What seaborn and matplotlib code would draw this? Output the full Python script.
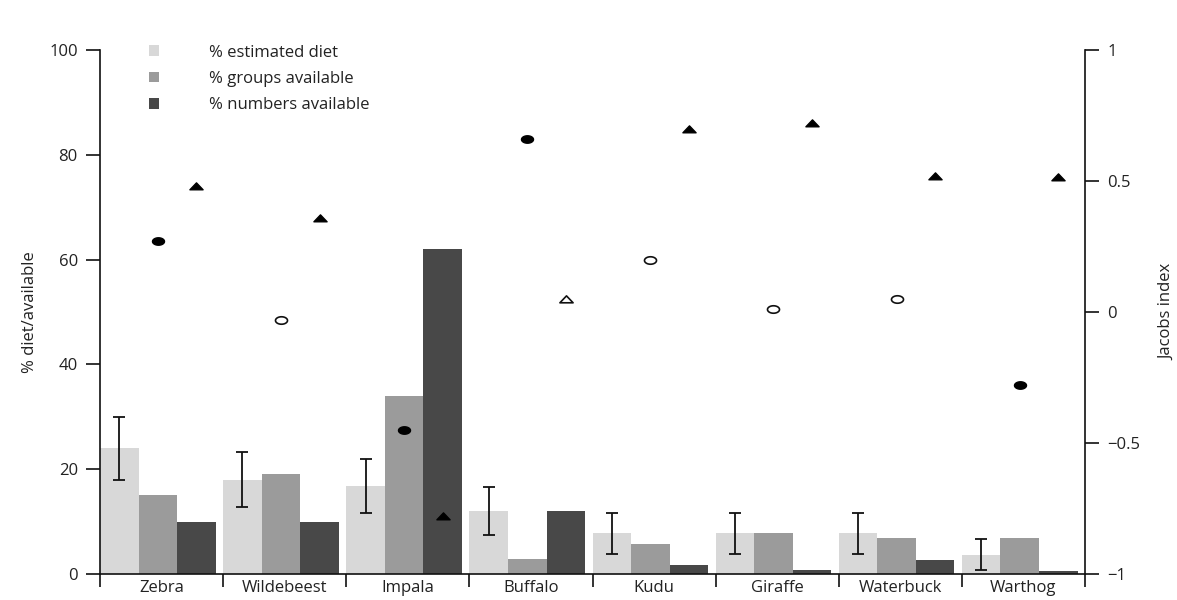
import numpy as np
import pandas as pd
import matplotlib
matplotlib.use("Agg")
import matplotlib.pyplot as plt
from matplotlib.patches import Patch
from matplotlib.path import Path
import seaborn as sns

# --- data -------------------------------------------------------------
species = ["Zebra", "Wildebeest", "Impala", "Buffalo", "Kudu", "Giraffe", "Waterbuck", "Warthog"]
diet = [24.0, 18.0, 16.8, 12.0, 7.8, 7.8, 7.8, 3.7]
diet_err = [6.0, 5.3, 5.2, 4.6, 3.9, 3.9, 3.9, 2.9]
groups_avail = [15.0, 19.0, 34.0, 2.8, 5.8, 7.8, 6.8, 6.8]
numbers_avail = [10.0, 10.0, 62.0, 12.0, 1.8, 0.7, 2.7, 0.6]

# Jacobs index for groups (circles) and numbers (triangles); True = significant (filled)
jacobs_groups = [0.27, -0.03, -0.45, 0.66, 0.20, 0.01, 0.05, -0.28]
jacobs_groups_sig = [True, False, True, True, False, False, False, True]
jacobs_numbers = [0.48, 0.36, -0.78, 0.05, 0.70, 0.72, 0.52, 0.515]
jacobs_numbers_sig = [True, True, True, False, True, True, True, True]

series_names = ["% estimated diet", "% groups available", "% numbers available"]
series_colors = ["#d8d8d8", "#9b9b9b", "#484848"]

# --- figure -----------------------------------------------------------
sns.set_theme(style="white")
plt.rcParams["font.family"] = ["Open Sans", "DejaVu Sans"]

FS = 12
fig = plt.figure(figsize=(11.77, 6.0), dpi=100)
ax = fig.add_axes([0.085, 0.0433, 0.8368, 0.8734])

df = pd.DataFrame({
    "species": species * 3,
    "value": diet + groups_avail + numbers_avail,
    "series": [series_names[0]] * 8 + [series_names[1]] * 8 + [series_names[2]] * 8,
})

bar_width = 0.94
sns.barplot(data=df, x="species", y="value", hue="series", order=species,
            hue_order=series_names, palette=series_colors, saturation=1,
            width=bar_width, dodge=True, errorbar=None, legend=False,
            linewidth=0, ax=ax)

# bars sit flush against the left edge of each species slot
shift = -0.03
for c in ax.containers:
    for p in c:
        p.set_x(p.get_x() + shift)

# bar centres per series, taken from the drawn containers
centres = [[p.get_x() + p.get_width() / 2 for p in c] for c in ax.containers]

ax.errorbar(centres[0], diet, yerr=diet_err, fmt="none", ecolor="#111111",
            elinewidth=1.3, capsize=4, capthick=1.3, zorder=5)

ax.set_xlim(-0.5, len(species) - 0.5)
ax.set_ylim(0, 100)
ax.set_yticks([0, 20, 40, 60, 80, 100])
ax.set_ylabel("% diet/available", fontsize=FS, color="#222222", labelpad=8)
ax.set_xlabel("")

for side in ["top", "right"]:
    ax.spines[side].set_visible(False)
for side in ["left", "bottom"]:
    ax.spines[side].set_color("#111111")
    ax.spines[side].set_linewidth(1.2)

ax.tick_params(axis="y", which="major", direction="out", length=10, width=1.2,
               color="#111111", labelsize=FS, labelcolor="#222222", left=True, pad=6)
ax.tick_params(axis="x", which="major", length=0, labelsize=FS, labelcolor="#222222", pad=4)
ax.set_xticks(np.arange(len(species) + 1) - 0.5, minor=True)
ax.tick_params(axis="x", which="minor", direction="out", length=9, width=1.2,
               color="#111111", bottom=True)

# --- Jacobs index on the right axis ------------------------------------
ax2 = ax.twinx()
ax2.set_ylim(-1, 1)
ax2.set_yticks([-1, -0.5, 0, 0.5, 1])
ax2.set_yticklabels(["\u22121", "\u22120.5", "0", "0.5", "1"])
ax2.set_ylabel("Jacobs index", fontsize=FS, color="#222222", labelpad=14)
for side in ["top", "left", "bottom"]:
    ax2.spines[side].set_visible(False)
ax2.spines["right"].set_color("#111111")
ax2.spines["right"].set_linewidth(1.2)
ax2.tick_params(axis="y", direction="out", length=10, width=1.2, color="#111111",
                labelsize=FS, labelcolor="#222222", right=True, pad=6)
ax2.grid(False)
ax.grid(False)

t = np.linspace(0, 2 * np.pi, 40)
ellipse = Path(np.column_stack([np.cos(t), 0.62 * np.sin(t)]), closed=True)
tri = Path([(-1, -0.5), (1, -0.5), (0, 0.55), (-1, -0.5)], closed=True)

def draw_points(xs, ys, sig, marker, size):
    xs = np.asarray(xs)
    ys = np.asarray(ys)
    sig = np.asarray(sig)
    ax2.scatter(xs[sig], ys[sig], marker=marker, s=size, c="#000000",
                edgecolors="#000000", linewidths=1.0, zorder=6)
    ax2.scatter(xs[~sig], ys[~sig], marker=marker, s=size, facecolors="white",
                edgecolors="#111111", linewidths=1.2, zorder=6)

draw_points(centres[1], jacobs_groups, jacobs_groups_sig, ellipse, 75)
draw_points(centres[2], jacobs_numbers, jacobs_numbers_sig, tri, 90)

# --- legend --------------------------------------------------------------
handles = [Patch(facecolor=c, edgecolor="none") for c in series_colors]
leg = ax.legend(handles, series_names, loc="upper left", bbox_to_anchor=(0.034, 1.039),
                frameon=False, fontsize=FS, handlelength=0.6, handleheight=0.6,
                handletextpad=3.0, labelspacing=0.62, labelcolor="#222222")

fig.savefig("out.png", dpi=100, facecolor="white")
